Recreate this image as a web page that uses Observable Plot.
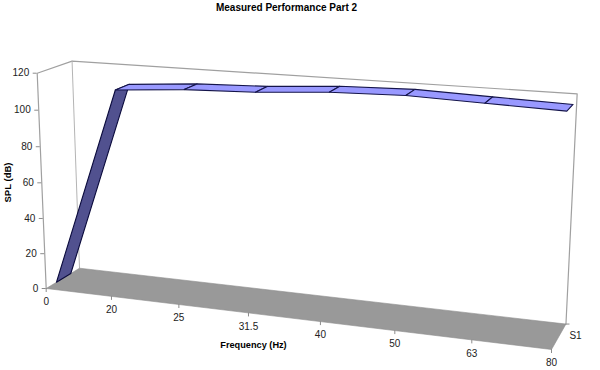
<!DOCTYPE html>
<html>
<head>
<meta charset="utf-8">
<script src="https://cdn.jsdelivr.net/npm/d3@7/dist/d3.min.js"></script>
<script src="https://cdn.jsdelivr.net/npm/@observablehq/plot@0.6/dist/plot.umd.min.js"></script>
<style>html,body{margin:0;padding:0;background:#fff}svg{display:block}</style>
</head>
<body>
<div id="chart"></div>
<script>
const chartTitle = "Measured Performance Part 2";
const xTitle = "Frequency (Hz)";
const yTitle = "SPL (dB)";
const seriesName = "S1";
const frequencies = ["0", "20", "25", "31.5", "40", "50", "63", "80"];
const splValues = [0, 111.4, 114.2, 115.4, 118, 119, 117.8, 116.7];
const splTicks = [0, 20, 40, 60, 80, 100, 120];

const gridMax = frequencies.length - 1;
const splMax = 120;
const ribbonDepth = [0.3, 0.73];

// Perspective camera of the 3-D chart box (frequency position, depth, SPL) -> page
function project(f, depth, spl) {
  const u = f / gridMax, v = depth, w = spl / splMax;
  const d = 1 - 0.11 * u + 0.042 * v - 0.036 * w;
  return [
    (45.7 + 444.69 * u + 36.62 * v - 10.32 * w) / d,
    (288 + 22.61 * u - 9.06 * v - 217.92 * w) / d
  ];
}
const px = d => project(d.f, d.depth, d.spl)[0];
const py = d => project(d.f, d.depth, d.spl)[1];
const pt = (f, depth, spl, id) => ({f, depth, spl, id});

const wallPath = [[0,0,0],[0,0,splMax],[0,1,splMax],[gridMax,1,splMax],[gridMax,1,0]]
  .map(c => pt(c[0], c[1], c[2], "outer"));
const innerEdge = [[0,1,0],[0,1,splMax]].map(c => pt(c[0], c[1], c[2], "inner"));
const floorPoly = [[0,0],[gridMax,0],[gridMax,1],[0,1],[0,0]].map(c => pt(c[0], c[1], 0, "floor"));

function quad(i, id) {
  return [
    pt(i, ribbonDepth[0], splValues[i], id),
    pt(i + 1, ribbonDepth[0], splValues[i + 1], id),
    pt(i + 1, ribbonDepth[1], splValues[i + 1], id),
    pt(i, ribbonDepth[1], splValues[i], id),
    pt(i, ribbonDepth[0], splValues[i], id)
  ];
}
const riseFace = quad(0, "rise");
const topFaces = d3.range(1, gridMax).flatMap(i => quad(i, "seg" + i));

const xTickMarks = frequencies.map((label, i) => ({label, f: i, depth: 0, spl: 0}));
const yTickMarks = splTicks.map(v => ({label: String(v), f: 0, depth: 0, spl: v}));
const depthTickMarks = [{f: gridMax, depth: 1, spl: 0}];
const gray = "#8c8c8c";
const font = "Liberation Sans, Arial, sans-serif";

const chart = Plot.plot({
  width: 600,
  height: 370,
  margin: 0,
  style: {background: "#fff", fontFamily: font},
  x: {type: "linear", domain: [0, 600], range: [0, 600], axis: null},
  y: {type: "linear", domain: [0, 370], range: [0, 370], axis: null},
  marks: [
    Plot.line(wallPath, {x: px, y: py, stroke: "#a0a0a0", strokeWidth: 1.2}),
    Plot.line(innerEdge, {x: px, y: py, stroke: "#b4b4b4", strokeWidth: 1}),
    Plot.line(floorPoly, {x: px, y: py, z: "id", fill: "#999999", stroke: "#8c8c8c", strokeWidth: 0.6}),
    Plot.line(riseFace, {x: px, y: py, z: "id", fill: "#51518f", stroke: "#0a0a3c", strokeWidth: 1.1}),
    Plot.line(topFaces, {x: px, y: py, z: "id", fill: "#9999ff", stroke: "#14144a", strokeWidth: 1.1}),
    Plot.ruleX(xTickMarks, {x: px, y1: py, y2: d => py(d) + 4, stroke: gray, strokeWidth: 1}),
    Plot.ruleY(yTickMarks, {y: py, x1: d => px(d) - 4, x2: px, stroke: gray, strokeWidth: 1}),
    Plot.ruleY(depthTickMarks, {y: py, x1: px, x2: d => px(d) + 4, stroke: gray, strokeWidth: 1}),
    Plot.text(xTickMarks, {x: px, y: py, dy: 13.5, text: "label", fontSize: 10, fill: "#222", textAnchor: "middle"}),
    Plot.text(yTickMarks, {x: px, y: py, dx: -8, text: "label", fontSize: 10, fill: "#222", textAnchor: "end"}),
    Plot.text([seriesName], {x: () => 575, y: () => 335, text: d => d, fontSize: 10, fill: "#222", textAnchor: "middle"}),
    Plot.text([chartTitle], {x: () => 286, y: () => 7, text: d => d, fontSize: 10, fontWeight: "bold", fill: "#000", textAnchor: "middle"}),
    Plot.text([xTitle], {x: () => 253, y: () => 345, text: d => d, fontSize: 9.2, fontWeight: "bold", fill: "#000", textAnchor: "middle"}),
    Plot.text([yTitle], {x: () => 7, y: () => 182, text: d => d, fontSize: 9.5, fontWeight: "bold", fill: "#000", textAnchor: "middle", rotate: -90})
  ]
});
document.getElementById("chart").appendChild(chart);
</script>
</body>
</html>
